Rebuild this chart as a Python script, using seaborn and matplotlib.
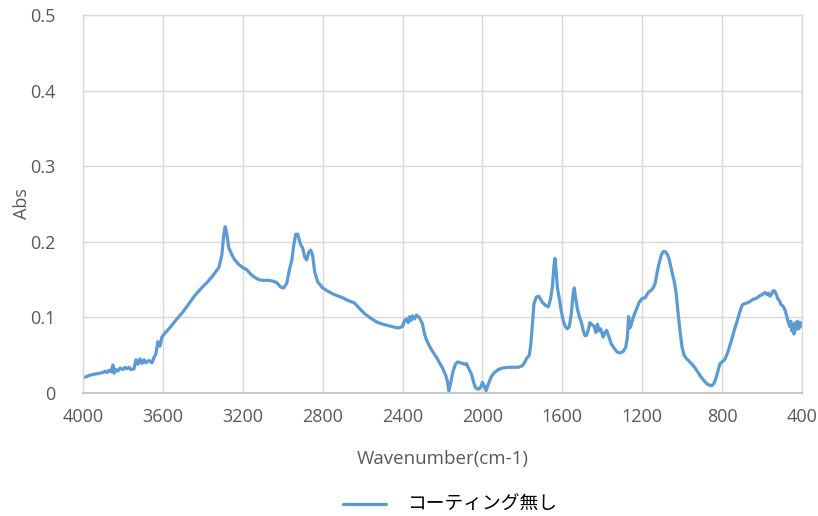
import matplotlib
matplotlib.use("Agg")
import matplotlib.pyplot as plt
import seaborn as sns
import pandas as pd

# FT-IR absorbance spectrum (wavenumber in cm-1, absorbance)
wavenumber = [
    4000, 3980, 3960, 3940, 3920, 3900, 3890, 3880, 3870, 3860, 3850, 3845, 3835, 3825, 3815,
    3800, 3790, 3780, 3770, 3760, 3745, 3735, 3725, 3715, 3705, 3695, 3685, 3670, 3655, 3645,
    3635, 3625, 3615, 3605, 3590, 3560, 3530, 3500, 3470, 3440, 3410, 3380, 3350, 3320, 3305,
    3295, 3288, 3280, 3270, 3255, 3240, 3220, 3200, 3180, 3160, 3140, 3120, 3100, 3070, 3050,
    3030, 3010, 2995, 2980, 2965, 2955, 2945, 2935, 2925, 2910, 2900, 2890, 2880, 2870, 2860,
    2850, 2840, 2825, 2800, 2770, 2740, 2700, 2670, 2640, 2620, 2590, 2560, 2530, 2500, 2470,
    2440, 2420, 2400, 2390, 2380, 2372, 2365, 2358, 2350, 2340, 2330, 2320, 2310, 2300, 2290,
    2280, 2265, 2250, 2230, 2215, 2200, 2185, 2175, 2168, 2160, 2148, 2135, 2125, 2110, 2090,
    2080, 2070, 2055, 2045, 2035, 2020, 2010, 2000, 1992, 1982, 1970, 1955, 1940, 1920, 1900,
    1870, 1840, 1820, 1800, 1790, 1778, 1765, 1758, 1750, 1742, 1730, 1718, 1700, 1685, 1670,
    1660, 1650, 1642, 1637, 1632, 1625, 1615, 1605, 1595, 1585, 1575, 1565, 1555, 1545, 1540,
    1533, 1525, 1515, 1505, 1495, 1487, 1480, 1470, 1462, 1450, 1440, 1432, 1424, 1416, 1408,
    1396, 1388, 1378, 1368, 1355, 1340, 1325, 1310, 1295, 1283, 1275, 1268, 1262, 1255, 1245,
    1230, 1215, 1200, 1185, 1170, 1155, 1145, 1135, 1125, 1115, 1105, 1095, 1085, 1075, 1065,
    1055, 1040, 1030, 1020, 1010, 1000, 990, 980, 965, 950, 935, 920, 905, 890, 875,
    860, 850, 840, 830, 820, 810, 800, 785, 770, 755, 740, 725, 710, 700, 690,
    675, 660, 645, 630, 615, 600, 585, 575, 568, 560, 552, 545, 537, 528, 520,
    512, 505, 495, 485, 475, 468, 462, 456, 450, 445, 440, 434, 428, 422, 416,
    410, 405, 400,
]
absorbance = [
    0.020, 0.022, 0.024, 0.025, 0.026, 0.027, 0.029, 0.027, 0.030, 0.028, 0.037, 0.026, 0.031, 0.029, 0.033,
    0.031, 0.034, 0.032, 0.034, 0.031, 0.032, 0.044, 0.038, 0.045, 0.039, 0.044, 0.040, 0.043, 0.040, 0.047,
    0.052, 0.068, 0.062, 0.074, 0.079, 0.088, 0.098, 0.107, 0.118, 0.129, 0.138, 0.146, 0.155, 0.166, 0.182,
    0.210, 0.220, 0.210, 0.192, 0.183, 0.176, 0.170, 0.166, 0.163, 0.157, 0.153, 0.150, 0.149, 0.149, 0.148,
    0.146, 0.140, 0.139, 0.145, 0.165, 0.175, 0.195, 0.210, 0.210, 0.196, 0.192, 0.180, 0.176, 0.186, 0.189,
    0.182, 0.160, 0.147, 0.139, 0.134, 0.130, 0.126, 0.122, 0.119, 0.113, 0.105, 0.099, 0.094, 0.091, 0.089,
    0.087, 0.086, 0.088, 0.096, 0.098, 0.093, 0.101, 0.096, 0.102, 0.098, 0.103, 0.101, 0.097, 0.091, 0.078,
    0.070, 0.062, 0.055, 0.047, 0.040, 0.033, 0.024, 0.015, 0.003, 0.012, 0.028, 0.038, 0.041, 0.040, 0.038,
    0.039, 0.033, 0.025, 0.015, 0.007, 0.005, 0.007, 0.014, 0.010, 0.003, 0.012, 0.022, 0.027, 0.031, 0.033,
    0.034, 0.034, 0.034, 0.036, 0.040, 0.046, 0.050, 0.064, 0.090, 0.118, 0.127, 0.128, 0.120, 0.116, 0.114,
    0.123, 0.140, 0.168, 0.178, 0.165, 0.140, 0.125, 0.108, 0.095, 0.088, 0.085, 0.088, 0.105, 0.133, 0.139,
    0.125, 0.112, 0.101, 0.094, 0.082, 0.076, 0.076, 0.083, 0.093, 0.090, 0.088, 0.080, 0.091, 0.082, 0.085,
    0.074, 0.079, 0.083, 0.075, 0.065, 0.059, 0.054, 0.053, 0.055, 0.060, 0.072, 0.101, 0.086, 0.090, 0.100,
    0.110, 0.120, 0.125, 0.126, 0.133, 0.136, 0.139, 0.145, 0.160, 0.172, 0.182, 0.187, 0.187, 0.184, 0.177,
    0.165, 0.148, 0.132, 0.105, 0.080, 0.060, 0.050, 0.046, 0.042, 0.038, 0.033, 0.027, 0.021, 0.016, 0.012,
    0.010, 0.010, 0.013, 0.020, 0.030, 0.039, 0.041, 0.045, 0.055, 0.068, 0.082, 0.095, 0.108, 0.116, 0.118,
    0.119, 0.121, 0.124, 0.125, 0.128, 0.130, 0.133, 0.130, 0.132, 0.128, 0.131, 0.135, 0.135, 0.130, 0.124,
    0.122, 0.117, 0.115, 0.110, 0.100, 0.093, 0.088, 0.095, 0.082, 0.090, 0.078, 0.093, 0.084, 0.095, 0.085,
    0.093, 0.088, 0.093,
]
series_name = "コーティング無し"
x_ticks = [4000, 3600, 3200, 2800, 2400, 2000, 1600, 1200, 800, 400]
y_ticks = [0, 0.1, 0.2, 0.3, 0.4, 0.5]
y_tick_labels = ["0", "0.1", "0.2", "0.3", "0.4", "0.5"]

df = pd.DataFrame({"Wavenumber": wavenumber, "Abs": absorbance, "series": series_name})

sns.set_style("whitegrid", {"grid.color": "#D9D9D9", "axes.edgecolor": "#D9D9D9"})
plt.rcParams["font.family"] = ["Open Sans", "Noto Sans CJK JP", "DejaVu Sans"]

fig = plt.figure(figsize=(8.18, 5.16), dpi=100)
ax = fig.add_axes([0.1015, 0.2384, 0.8789, 0.7325])

sns.lineplot(data=df, x="Wavenumber", y="Abs", hue="series", palette=["#5B9BD5"],
             estimator=None, linewidth=2.3, ax=ax, legend=True)

ax.set_xlim(4000, 400)
ax.set_ylim(0, 0.5)
ax.set_xticks(x_ticks)
ax.set_xticklabels([str(t) for t in x_ticks])
ax.set_yticks(y_ticks)
ax.set_yticklabels(y_tick_labels)
ax.grid(True, color="#D9D9D9", linewidth=1.0)
for side in ["left", "right", "top"]:
    ax.spines[side].set_color("#D9D9D9")
    ax.spines[side].set_linewidth(1.0)
ax.spines["bottom"].set_color("#BFBFBF")
ax.spines["bottom"].set_linewidth(1.2)

ax.tick_params(axis="both", length=0, labelsize=13, labelcolor="#595959")
ax.tick_params(axis="y", pad=20)
ax.tick_params(axis="x", pad=11)
ax.set_xlabel("Wavenumber(cm-1)", fontsize=13.5, color="#595959")
ax.xaxis.set_label_coords(0.5, -0.152)
ax.set_ylabel("Abs", fontsize=13, color="#595959")
ax.yaxis.set_label_coords(-0.073, 0.5)

handles, labels = ax.get_legend_handles_labels()
ax.get_legend().remove()
fig.legend(handles, labels, loc="center", bbox_to_anchor=(0.55, 0.022), frameon=False,
           handlelength=2.3, handletextpad=1.1,
           prop={"family": ["Noto Sans CJK JP", "DejaVu Sans"], "size": 13.5})
for t in fig.legends[0].get_texts():
    t.set_color("#000000")

fig.savefig("out.png", dpi=100)
